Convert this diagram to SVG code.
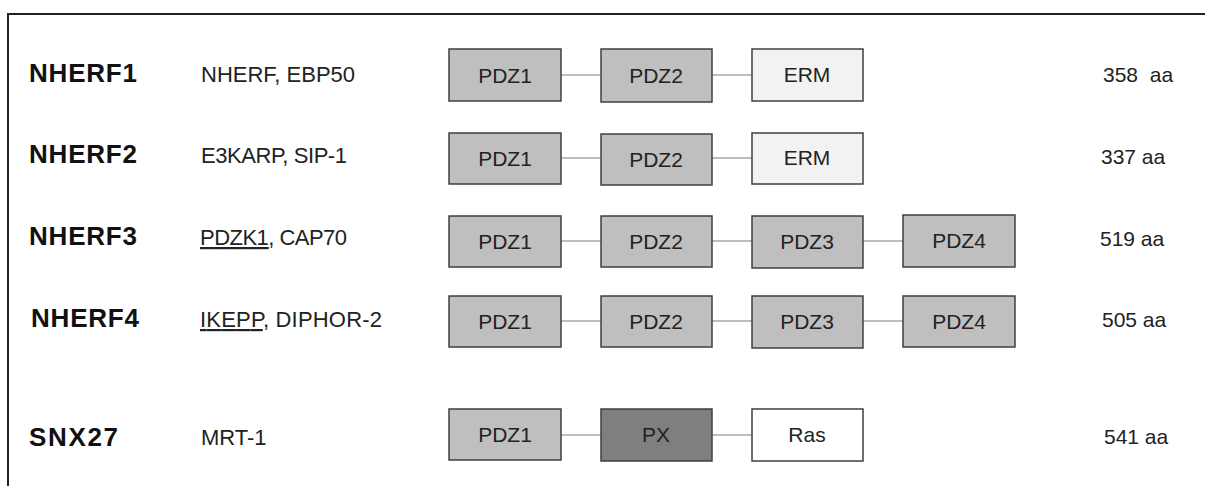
<svg xmlns="http://www.w3.org/2000/svg" width="1205" height="486" viewBox="0 0 1205 486">
<style>
.name{font-family:"Liberation Sans",Arial,sans-serif;font-weight:bold;font-size:26px;fill:#111}
.alias{font-family:"Liberation Sans",Arial,sans-serif;font-size:22px;fill:#222}
.len{font-family:"Liberation Sans",Arial,sans-serif;font-size:21px;fill:#222;white-space:pre}
.bl{font-family:"Liberation Sans",Arial,sans-serif;font-size:21px;fill:#222;text-anchor:middle}
.box{stroke:#3f3f3f;stroke-width:1.5}
.pdz{fill:#bfbfbf}
.erm{fill:#f2f2f2}
.px{fill:#7f7f7f}
.ras{fill:#ffffff}
.con{stroke:#7f7f7f;stroke-width:1.2;fill:none}
</style>
<rect width="1205" height="486" fill="#fff"/>
<path d="M8 486 V14 H1205" fill="none" stroke="#222" stroke-width="2"/>
<g id="connectors">
<line class="con" x1="561" y1="75" x2="601" y2="75"/>
<line class="con" x1="712" y1="75" x2="752" y2="75"/>
<line class="con" x1="561" y1="158" x2="601" y2="158"/>
<line class="con" x1="712" y1="158" x2="752" y2="158"/>
<line class="con" x1="561" y1="241" x2="601" y2="241"/>
<line class="con" x1="712" y1="241" x2="752" y2="241"/>
<line class="con" x1="863" y1="241" x2="903" y2="241"/>
<line class="con" x1="561" y1="321" x2="601" y2="321"/>
<line class="con" x1="712" y1="321" x2="752" y2="321"/>
<line class="con" x1="863" y1="321" x2="903" y2="321"/>
<line class="con" x1="561" y1="435" x2="601" y2="435"/>
<line class="con" x1="712" y1="435" x2="752" y2="435"/>
</g>
<g id="row1">
<text class="name" x="29" y="82" textLength="108">NHERF1</text>
<text class="alias" x="201" y="82">NHERF, EBP50</text>
<g id="r1-pdz1"><rect class="box pdz" x="449" y="49" width="112" height="52"/><text class="bl" x="505" y="83">PDZ1</text></g>
<g id="r1-pdz2"><rect class="box pdz" x="601" y="49" width="111" height="53"/><text class="bl" x="656" y="83">PDZ2</text></g>
<g id="r1-erm"><rect class="box erm" x="752" y="49" width="111" height="52"/><text class="bl" x="807" y="82">ERM</text></g>
<text class="len" x="1103" y="82">358  aa</text>
</g>
<g id="row2">
<text class="name" x="29" y="163" textLength="108">NHERF2</text>
<text class="alias" x="201" y="163" textLength="146">E3KARP, SIP-1</text>
<g id="r2-pdz1"><rect class="box pdz" x="449" y="133" width="112" height="51"/><text class="bl" x="505" y="166">PDZ1</text></g>
<g id="r2-pdz2"><rect class="box pdz" x="601" y="134" width="111" height="51"/><text class="bl" x="656" y="167">PDZ2</text></g>
<g id="r2-erm"><rect class="box erm" x="752" y="133" width="111" height="51"/><text class="bl" x="807" y="165">ERM</text></g>
<text class="len" x="1101" y="164">337 aa</text>
</g>
<g id="row3">
<text class="name" x="29" y="245" textLength="108">NHERF3</text>
<text class="alias" x="200" y="245" textLength="147"><tspan text-decoration="underline">PDZK1</tspan>, CAP70</text>
<g id="r3-pdz1"><rect class="box pdz" x="449" y="216" width="112" height="51"/><text class="bl" x="505" y="249">PDZ1</text></g>
<g id="r3-pdz2"><rect class="box pdz" x="601" y="216" width="111" height="51"/><text class="bl" x="656" y="249">PDZ2</text></g>
<g id="r3-pdz3"><rect class="box pdz" x="752" y="216" width="111" height="52"/><text class="bl" x="807" y="249">PDZ3</text></g>
<g id="r3-pdz4"><rect class="box pdz" x="903" y="215" width="112" height="52"/><text class="bl" x="959" y="248">PDZ4</text></g>
<text class="len" x="1100" y="246">519 aa</text>
</g>
<g id="row4">
<text class="name" x="31" y="327" textLength="108">NHERF4</text>
<text class="alias" x="200" y="327" textLength="182"><tspan text-decoration="underline">IKEPP</tspan>, DIPHOR-2</text>
<g id="r4-pdz1"><rect class="box pdz" x="449" y="296" width="112" height="51"/><text class="bl" x="505" y="329">PDZ1</text></g>
<g id="r4-pdz2"><rect class="box pdz" x="601" y="296" width="111" height="51"/><text class="bl" x="656" y="329">PDZ2</text></g>
<g id="r4-pdz3"><rect class="box pdz" x="752" y="296" width="111" height="52"/><text class="bl" x="807" y="329">PDZ3</text></g>
<g id="r4-pdz4"><rect class="box pdz" x="903" y="296" width="112" height="51"/><text class="bl" x="959" y="329">PDZ4</text></g>
<text class="len" x="1102" y="327">505 aa</text>
</g>
<g id="row5">
<text class="name" x="29" y="446" textLength="89">SNX27</text>
<text class="alias" x="201" y="445">MRT-1</text>
<g id="r5-pdz1"><rect class="box pdz" x="449" y="409" width="112" height="51"/><text class="bl" x="505" y="442">PDZ1</text></g>
<g id="r5-px"><rect class="box px" x="601" y="409" width="111" height="52"/><text class="bl" x="656" y="442">PX</text></g>
<g id="r5-ras"><rect class="box ras" x="752" y="409" width="111" height="52"/><text class="bl" x="807" y="442">Ras</text></g>
<text class="len" x="1104" y="444">541 aa</text>
</g>
</svg>
